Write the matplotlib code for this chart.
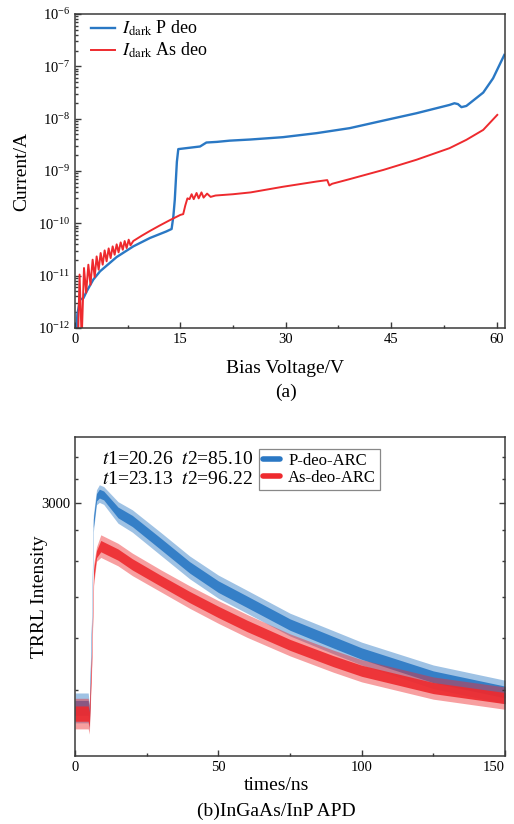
import numpy as np
import matplotlib
matplotlib.use('Agg')
import matplotlib.pyplot as plt
from matplotlib.lines import Line2D
from matplotlib.ticker import (FixedLocator, MultipleLocator, NullFormatter,
                               LogLocator, FuncFormatter)

plt.rcParams['font.family'] = ['Liberation Serif', 'DejaVu Serif']
plt.rcParams['mathtext.fontset'] = 'stix'

# (a) dark current vs bias voltage
blue_v = [0.15, 0.33, 0.71, 1.19, 1.66, 2.6, 3.56, 5.93, 8.3, 10.67,
          13.0, 13.75, 14.0, 14.2, 14.5, 14.7, 16.0, 17.8, 18.7, 20.2,
          22.0, 25.0, 29.6, 34.4, 39.1, 43.9, 48.6, 53.3, 54.0, 54.5,
          55.0, 55.7, 58.1, 59.5, 61.1]
blue_i = [5e-13, 1.8e-12, 3.5e-12, 3.7e-12, 5.0e-12, 8.4e-12, 1.21e-11, 2.27e-11, 3.63e-11, 5.25e-11,
          7.0e-11, 7.8e-11, 1.36e-10, 2.8e-10, 1.5e-9, 2.62e-9, 2.75e-9, 2.94e-9, 3.5e-9, 3.6e-9,
          3.8e-9, 4.0e-9, 4.43e-9, 5.29e-9, 6.59e-9, 9.2e-9, 1.27e-8, 1.83e-8, 1.97e-8, 1.9e-8,
          1.66e-8, 1.75e-8, 3.15e-8, 5.9e-8, 1.65e-7]

red_v = [0.45, 0.65, 0.95, 1.28, 1.59, 1.90, 2.2, 2.51, 2.8, 3.08,
         3.37, 3.65, 3.94, 4.22, 4.5, 4.79, 5.07, 5.36, 5.64, 5.93,
         6.2, 6.5, 6.8, 7.07, 7.35, 7.64, 7.9, 8.3, 9.5, 10.7,
         12.0, 13.5, 15.0, 15.4, 15.7, 16.0, 16.3, 16.6, 16.9, 17.3,
         17.6, 18.0, 18.3, 18.8, 19.3, 20.0, 22.5, 25.0, 29.6, 34.4,
         35.9, 36.2, 36.6, 39.1, 43.9, 48.6, 53.3, 55.7, 58.1, 60.1]
red_i = [8e-13, 1.05e-11, 6e-13, 1.4e-11, 4.7e-12, 1.62e-11, 6.7e-12, 2.02e-11, 9.4e-12, 2.33e-11,
         1.3e-11, 2.71e-11, 1.62e-11, 3.04e-11, 1.88e-11, 3.32e-11, 2.17e-11, 3.63e-11, 2.51e-11, 3.97e-11,
         2.79e-11, 4.32e-11, 3.13e-11, 4.59e-11, 3.37e-11, 4.87e-11, 3.8e-11, 4.6e-11, 5.8e-11, 7.2e-11,
         9.0e-11, 1.15e-10, 1.45e-10, 1.5e-10, 2.2e-10, 3.0e-10, 2.9e-10, 3.6e-10, 2.9e-10, 3.8e-10,
         3.0e-10, 3.9e-10, 3.1e-10, 3.7e-10, 3.2e-10, 3.4e-10, 3.6e-10, 3.9e-10, 5.0e-10, 6.3e-10,
         6.7e-10, 5.3e-10, 5.7e-10, 7.0e-10, 1.05e-9, 1.64e-9, 2.73e-9, 3.94e-9, 6.1e-9, 1.18e-8]

# (b) TRPL decay, upper / lower edge of the noisy traces
t_blue = [0, 4.6, 5.0, 5.8, 6.4, 7.5, 8.5, 10, 15, 20, 30, 40, 50, 60, 75, 90, 100, 125, 150]
blue_hi = [1315, 1315, 1250, 1850, 2850, 3180, 3250, 3225, 3020, 2915, 2640, 2385, 2195, 2055,
           1860, 1725, 1640, 1485, 1390]
blue_lo = [1155, 1155, 1120, 1700, 2650, 2980, 3010, 2985, 2750, 2645, 2390, 2160, 1985, 1860,
           1685, 1560, 1485, 1340, 1255]

t_red = [0, 4.6, 5.0, 5.8, 6.5, 7.5, 9, 15, 20, 30, 40, 50, 60, 75, 90, 100, 125, 150]
red_hi = [1285, 1285, 1250, 1600, 2300, 2480, 2615, 2520, 2415, 2245, 2095, 1965, 1850, 1700,
          1585, 1520, 1410, 1350]
red_lo = [1125, 1125, 1100, 1450, 2100, 2330, 2370, 2285, 2190, 2040, 1900, 1780, 1675, 1545,
          1440, 1380, 1280, 1225]

fit_lines = [r'$t$1=20.26  $t$2=85.10', r'$t$1=23.13  $t$2=96.22']
b_minor = [4000/3, 5000/3, 2000, 7000/3, 8000/3, 10000/3, 11000/3]

BLUE = '#2a78c4'
RED = '#ee2a2e'
SPINE = '#3a3a3a'

fig = plt.figure(figsize=(5.14, 8.24), dpi=100)
ax1 = fig.add_axes([75/514, 1-328/824, 430/514, 314/824])
ax2 = fig.add_axes([75/514, 1-756/824, 430/514, 319/824])

# ---- (a)
ax1.plot(blue_v, blue_i, color=BLUE, lw=1.7, label=r'$I_{\rm dark}$ P deo')
ax1.plot(red_v, red_i, color=RED, lw=1.4, label=r'$I_{\rm dark}$ As deo')
ax1.set_yscale('log')
ax1.set_ylim(1e-12, 1e-6)
ax1.set_xlim(0, 61.2)
ax1.xaxis.set_major_locator(MultipleLocator(15))
ax1.xaxis.set_minor_locator(MultipleLocator(7.5))
ax1.yaxis.set_major_locator(LogLocator(base=10, numticks=10))
ax1.yaxis.set_minor_locator(LogLocator(base=10, subs=np.arange(2, 10), numticks=20))
ax1.yaxis.set_minor_formatter(NullFormatter())
ax1.tick_params(which='both', direction='in', top=False, right=False, labelsize=10.5,
                color=SPINE, width=1.0)
ax1.tick_params(which='major', length=4)
ax1.tick_params(which='minor', length=2.2)
ax1.set_xlabel('Bias Voltage/V', fontsize=14, va='center')
ax1.xaxis.set_label_coords(0.488, (328-368)/314)
ax1.set_ylabel('Current/A', fontsize=14, va='center')
ax1.yaxis.set_label_coords((22-75)/430, 0.5)
ax1.legend(loc='upper left', bbox_to_anchor=(0.012, 1.019), frameon=False, fontsize=13,
           handlelength=1.35, handletextpad=0.35, labelspacing=0.15, borderaxespad=0.2)

# ---- (b)
for t, hi, lo, col in [(t_blue, blue_hi, blue_lo, BLUE), (t_red, red_hi, red_lo, RED)]:
    hi = np.array(hi, float)
    lo = np.array(lo, float)
    mid = np.sqrt(hi * lo)
    ax2.fill_between(t, lo, hi, color=col, alpha=0.45, lw=0)
    ax2.fill_between(t, np.sqrt(lo * mid), np.sqrt(hi * mid), color=col, alpha=0.9, lw=0)

ax2.set_yscale('log')
ax2.set_ylim(1000, 4000)
ax2.set_xlim(0, 150)
ax2.xaxis.set_major_locator(FixedLocator([0, 50, 100, 150]))
ax2.xaxis.set_minor_locator(MultipleLocator(25))
ax2.yaxis.set_major_locator(FixedLocator([3000]))
ax2.yaxis.set_major_formatter(FuncFormatter(lambda v, p: f'{v:.0f}'))
ax2.yaxis.set_minor_locator(FixedLocator(b_minor))
ax2.yaxis.set_minor_formatter(NullFormatter())
ax2.tick_params(which='both', direction='in', top=False, right=True, labelsize=10.5,
                color=SPINE, width=1.0)
ax2.tick_params(which='major', length=4)
ax2.tick_params(which='minor', length=2.5)
ax2.set_xlabel('times/ns', fontsize=14, va='center')
ax2.xaxis.set_label_coords((276-75)/430, (756-785)/319)
ax2.set_ylabel('TRRL Intensity', fontsize=14, va='center')
ax2.yaxis.set_label_coords((40-75)/430, 0.5)

ax2.text(0.062, (756-459)/319, fit_lines[0], transform=ax2.transAxes, fontsize=14,
         ha='left', va='center')
ax2.text(0.062, (756-480)/319, fit_lines[1], transform=ax2.transAxes, fontsize=14,
         ha='left', va='center')

handles = [Line2D([], [], color=BLUE, lw=4, solid_capstyle='round'),
           Line2D([], [], color=RED, lw=4, solid_capstyle='round')]
leg = ax2.legend(handles, ['P-deo-ARC', 'As-deo-ARC'], loc='upper left',
                 bbox_to_anchor=((259-75)/430, (756-449)/319), borderaxespad=0,
                 fancybox=False, edgecolor='#888888', framealpha=1, fontsize=12,
                 handlelength=1.0, handletextpad=0.5, labelspacing=0.05, borderpad=0.25)
leg.get_frame().set_linewidth(0.9)

for ax in (ax1, ax2):
    for s in ax.spines.values():
        s.set_color(SPINE)
        s.set_linewidth(1.1)

# keep the last x label of (b) inside the canvas
ax2.xaxis.get_major_ticks()[3].label1.set_horizontalalignment('right')

fig.text(286/514, 1-392/824, '(a)', ha='center', va='center', fontsize=14)
fig.text(276/514, 1-811/824, '(b)InGaAs/InP APD', ha='center', va='center', fontsize=14)

fig.savefig('out.png', dpi=100)
